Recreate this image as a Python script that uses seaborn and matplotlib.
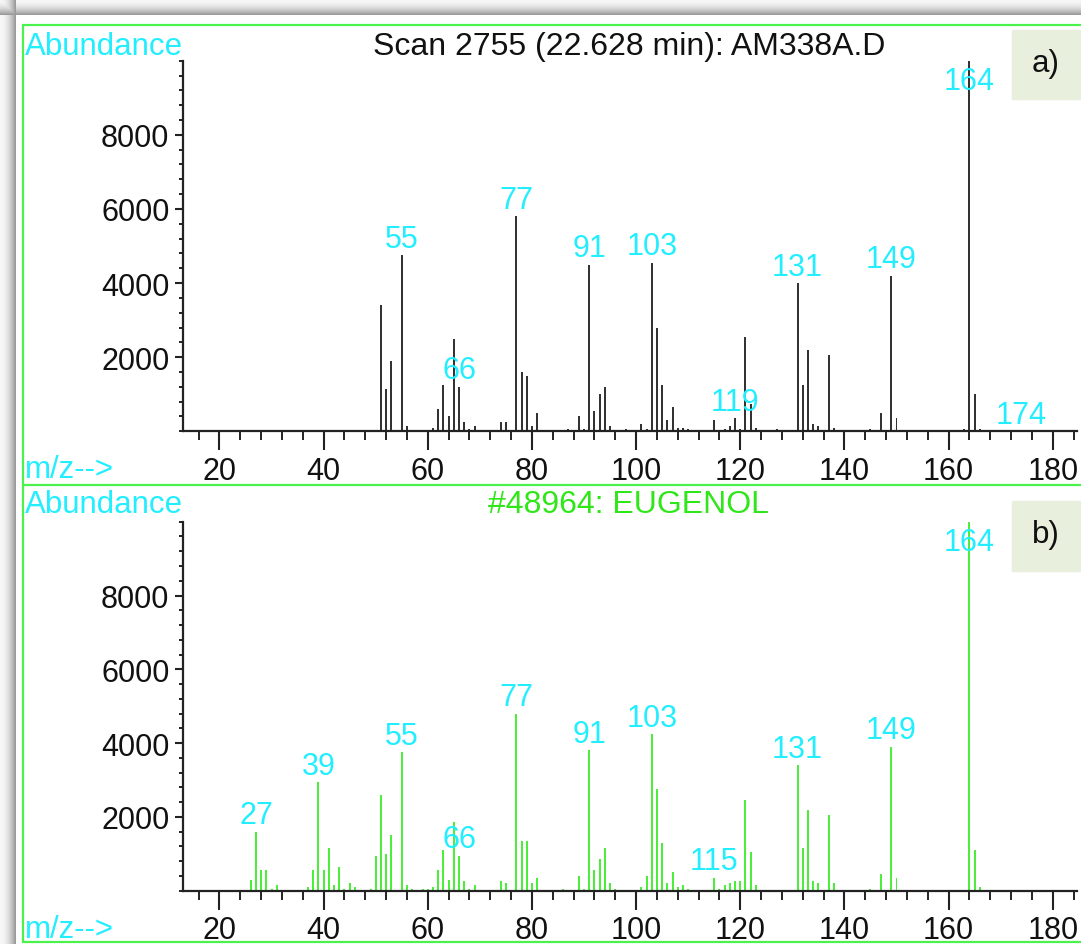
import numpy as np
import pandas as pd
import matplotlib
matplotlib.use("Agg")
import matplotlib.pyplot as plt
import seaborn as sns
from matplotlib.ticker import MultipleLocator, FixedLocator
from matplotlib.patches import Rectangle

# ---------------- data ----------------
# a) sample scan 2755
mz_a = [51, 52, 53, 55, 56, 57, 58, 59, 60, 61,
        62, 63, 64, 65, 66, 67, 68, 69,
        74, 75, 77, 78, 79, 80, 81,
        87, 89, 90, 91, 92, 93, 94, 95,
        98, 101, 102, 103, 104, 105, 106, 107, 108, 109, 110,
        115, 117, 118, 119, 120, 121, 122, 123,
        127, 131, 132, 133, 134, 135, 137, 138,
        145, 147, 149, 150,
        163, 164, 165, 166]
ab_a = [3400, 1150, 1900, 4750, 150, 40, 40, 40, 40, 100,
        600, 1250, 400, 2500, 1200, 250, 50, 150,
        250, 250, 5800, 1600, 1500, 150, 500,
        50, 400, 50, 4500, 550, 1000, 1200, 150,
        50, 200, 50, 4550, 2800, 1250, 300, 650, 80, 80, 50,
        300, 50, 150, 350, 50, 2550, 750, 100,
        50, 4000, 1250, 2200, 200, 150, 2050, 100,
        50, 500, 4200, 350,
        50, 10000, 1000, 50]
labels_a = [55, 66, 77, 91, 103, 119, 131, 149, 164, 174]

# b) library spectrum #48964 EUGENOL
mz_b = [26, 27, 28, 29, 30, 31,
        37, 38, 39, 40, 41, 42, 43, 44, 45, 46,
        49, 50, 51, 52, 53, 55, 56, 57, 59, 60, 61,
        62, 63, 64, 65, 66, 67, 68, 69,
        74, 75, 77, 78, 79, 80, 81,
        86, 89, 90, 91, 92, 93, 94, 95, 96,
        101, 102, 103, 104, 105, 106, 107, 108, 109, 110,
        115, 116, 117, 118, 119, 120, 121, 122, 123,
        131, 132, 133, 134, 135, 137, 138,
        145, 147, 149, 150,
        164, 165, 166]
ab_b = [300, 1600, 550, 550, 50, 150,
        100, 550, 2950, 550, 1150, 150, 650, 50, 200, 100,
        50, 950, 2600, 1000, 1500, 3750, 150, 50, 50, 50, 100,
        550, 1100, 300, 1850, 950, 250, 50, 150,
        250, 200, 4800, 1350, 1350, 200, 350,
        50, 400, 50, 3800, 550, 850, 1150, 200, 50,
        100, 400, 4250, 2750, 1300, 200, 500, 100, 150, 50,
        350, 50, 150, 200, 250, 250, 2450, 1050, 150,
        3400, 1150, 2200, 250, 200, 2050, 200,
        50, 450, 3900, 350,
        10000, 1100, 100]
labels_b = [27, 39, 55, 66, 77, 91, 103, 115, 131, 149, 164]

x_major = [20, 40, 60, 80, 100, 120, 140, 160, 180]
y_major = [2000, 4000, 6000, 8000]

title_a = "Scan 2755 (22.628 min): AM338A.D"
title_b = "#48964: EUGENOL"

# ---------------- style ----------------
sns.set_theme(style="white")
plt.rcParams["font.family"] = ["Liberation Sans", "DejaVu Sans"]

CYAN = "#22eeff"
FRAME_GREEN = "#4cf24c"
BAR_GREEN = "#4ded3c"
TITLE_GREEN = "#2fe619"
BAR_BLACK = "#333333"
TAG_BG = "#e8efdd"
FS_TICK = 22
FS_TEXT = 22.5
FS_TITLE = 23
FS_PEAK = 22

W, H = 1081, 945
fig = plt.figure(figsize=(W / 100, H / 100), dpi=100)

# background with frame shadow
bg = fig.add_axes([0, 0, 1, 1])
bg.set_xlim(0, W)
bg.set_ylim(H, 0)
bg.axis("off")
yy, xx = np.mgrid[0:H, 0:W].astype(float)


def shade(d):
    t = np.clip(d / 15.0, 0, 1)
    return np.where(d < 16, 0.97 - 0.37 * t ** 2, 1.0)


img = np.minimum(shade(yy), shade(xx))
bg.imshow(np.dstack([img] * 3), extent=[0, W, H, 0], aspect="auto",
          interpolation="bilinear", zorder=0)

# green frame lines
lw_frame = 1.6
bg.plot([22.5, 22.5], [25.5, 943], color=FRAME_GREEN, lw=lw_frame, zorder=2)
bg.plot([22.5, W], [25.5, 25.5], color=FRAME_GREEN, lw=lw_frame, zorder=2)
bg.plot([22.5, W], [485.5, 485.5], color=FRAME_GREEN, lw=lw_frame, zorder=2)
bg.plot([22.5, W], [942.5, 942.5], color=FRAME_GREEN, lw=lw_frame, zorder=2)

# header / footer texts
bg.text(25, 55, "Abundance", color=CYAN, fontsize=FS_TEXT, ha="left", va="baseline")
bg.text(629, 55, title_a, color="#111111", fontsize=FS_TITLE, ha="center", va="baseline")
bg.text(25, 478, "m/z-->", color=CYAN, fontsize=FS_TEXT, ha="left", va="baseline")
bg.text(25, 513, "Abundance", color=CYAN, fontsize=FS_TEXT, ha="left", va="baseline")
bg.text(629, 513, title_b, color=TITLE_GREEN, fontsize=FS_TITLE, ha="center", va="baseline")
bg.text(25, 938, "m/z-->", color=CYAN, fontsize=FS_TEXT, ha="left", va="baseline")

# panel tags
bg.add_patch(Rectangle((1012, 31), 80, 69, color=TAG_BG, zorder=1))
bg.text(1046, 64, "a)", color="#111111", fontsize=FS_TEXT, ha="center", va="center")
bg.add_patch(Rectangle((1012, 502), 80, 70, color=TAG_BG, zorder=1))
bg.text(1046, 535, "b)", color="#111111", fontsize=FS_TEXT, ha="center", va="center")


def panel(rect, mz, ab, labels, color):
    ax = fig.add_axes(rect)
    ax.set_facecolor("none")
    df = pd.DataFrame({"mz": mz, "abundance": ab})
    sns.histplot(data=df, x="mz", weights="abundance", discrete=True,
                 shrink=0.38, color=color, alpha=1, linewidth=0,
                 antialiased=False, ax=ax)
    ax.set_xlim(13.05, 184.6)
    ax.set_ylim(0, 10000)
    ax.set_xlabel("")
    ax.set_ylabel("")
    for s in ["top", "right"]:
        ax.spines[s].set_visible(False)
    for s in ["left", "bottom"]:
        ax.spines[s].set_color("#222222")
        ax.spines[s].set_linewidth(1.6)
    ax.xaxis.set_major_locator(FixedLocator(x_major))
    ax.xaxis.set_minor_locator(MultipleLocator(4))
    ax.yaxis.set_major_locator(FixedLocator(y_major))
    ax.yaxis.set_minor_locator(MultipleLocator(400))
    ax.tick_params(axis="x", which="major", direction="out", length=13.5,
                   width=1.5, color="#222222", pad=4, labelsize=FS_TICK,
                   labelcolor="#111111", bottom=True)
    ax.tick_params(axis="x", which="minor", direction="out", length=6.5,
                   width=1.4, color="#222222", bottom=True)
    ax.tick_params(axis="y", which="major", direction="out", length=5.5,
                   width=1.5, color="#222222", pad=4.5, labelsize=FS_TICK,
                   labelcolor="#111111", left=True)
    ax.tick_params(axis="y", which="minor", direction="out", length=3.2,
                   width=1.4, color="#222222", left=True)
    ax.grid(False)
    lookup = dict(zip(mz, ab))
    for lab in labels:
        h = lookup.get(lab, 0)
        ax.annotate(str(lab), (lab, min(h, 9000)), xytext=(0, 6),
                    textcoords="offset points", ha="center", va="baseline",
                    color=CYAN, fontsize=FS_PEAK, annotation_clip=False, zorder=5)
    return ax


left = 183.3 / W
width = (1076.7 - 183.3) / W
panel([left, 1 - 432.3 / H, width, (432.3 - 61.7) / H], mz_a, ab_a, labels_a, BAR_BLACK)
panel([left, 1 - 891.7 / H, width, (891.7 - 522.7) / H], mz_b, ab_b, labels_b, BAR_GREEN)

fig.savefig("out.png", dpi=100)
